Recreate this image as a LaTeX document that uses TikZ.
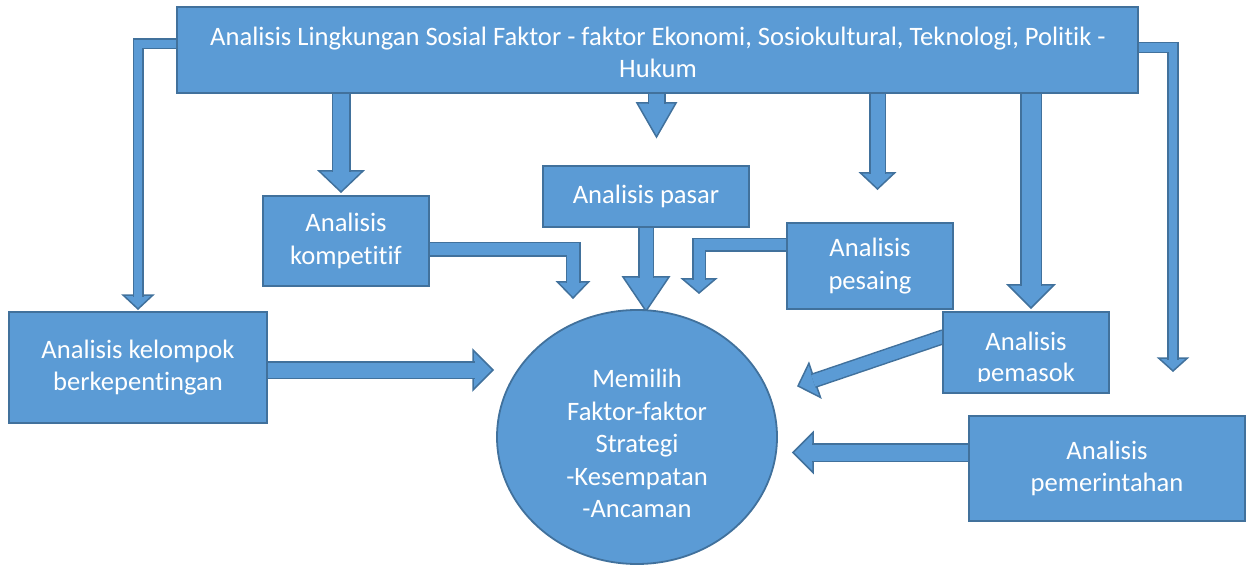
\documentclass[tikz,border=0pt]{standalone}
\usepackage{fontspec}
\setmainfont{Carlito}[Ligatures=NoCommon]
\usetikzlibrary{calc,shapes.geometric}
\definecolor{fillc}{HTML}{5B9BD5}
\definecolor{bordc}{HTML}{41719C}
\pgfdeclarelayer{bg}
\pgfsetlayers{bg,main}
% straight block arrow: start, tip, shaft width, head half width, head length
\newcommand{\sarrow}[5]{%
  \coordinate (hb) at ($(#2)!#5pt!(#1)$);
  \filldraw[headst] ($(hb)!#4pt!90:(#2)$) -- (#2) -- ($(hb)!#4pt!-90:(#2)$) -- cycle;
  \pgfmathsetlengthmacro\arrDD{#3-3}%
  \pgfmathsetlengthmacro\arrLL{#5-1.5}%
  \draw[shaftst, double distance=\arrDD] (#1) -- ($(#2)!\arrLL!(#1)$);
}
% bent block arrow: start, corner, tip, shaft width, head half width, head length
\newcommand{\barrow}[6]{%
  \coordinate (hb) at ($(#3)!#6pt!(#2)$);
  \filldraw[headst] ($(hb)!#5pt!90:(#3)$) -- (#3) -- ($(hb)!#5pt!-90:(#3)$) -- cycle;
  \pgfmathsetlengthmacro\arrDD{#4-3}%
  \pgfmathsetlengthmacro\arrLL{#6-1.5}%
  \draw[shaftst, double distance=\arrDD] (#1) -- (#2) -- ($(#3)!\arrLL!(#2)$);
}
\begin{document}
\begin{tikzpicture}[x=1pt,y=-1pt,
  box/.style={draw=bordc, fill=fillc, line width=2pt, rectangle, inner sep=0pt,
    text=white, align=center, font=\fontsize{26.6}{32.5}\selectfont},
  txt/.style={text=white, align=center, font=\fontsize{26.6}{32.5}\selectfont, inner sep=0pt},
  headst/.style={fill=fillc, draw=bordc, line width=1.5pt, line join=miter},
  shaftst/.style={draw=bordc, line width=1.5pt, double=fillc, line join=miter}]
\useasboundingbox (0,0) rectangle (1247,569);

% boxes
\node[box, minimum width=961pt, minimum height=86pt] (top) at (657.5,50) {};
\node[txt] (toptxt) at (658,52.5) {Analisis Lingkungan Sosial Faktor - faktor Ekonomi, Sosiokultural, Teknologi, Politik -\\Hukum};
\node[box, minimum width=166pt, minimum height=90pt] (kom) at (346,241) {Analisis\\kompetitif};
\node[box, minimum width=206pt, minimum height=61pt] (pasar) at (646,196.5) {Analisis pasar};
\node[box, minimum width=166pt, minimum height=86pt] (pesaing) at (870,266) {Analisis\\pesaing};
\node[box, minimum width=166pt, minimum height=81pt] (pemasok) at (1026,352.5) {};
\node[txt, anchor=base] (pemasok1) at (1026,350) {Analisis};
\begin{scope}
  \clip (950,361) rectangle (1100,381.5);
  \node[txt, anchor=base] (pemasok2) at (1026,381) {pemasok};
\end{scope}
\node[box, minimum width=258pt, minimum height=111pt] (kel) at (138,367.5) {Analisis kelompok\\berkepentingan};
\node[box, minimum width=276pt, minimum height=105pt] (pem) at (1107,468.5) {Analisis\\pemerintahan};
\node[draw=bordc, fill=fillc, line width=1.8pt, ellipse, minimum width=280pt, minimum height=254pt, inner sep=0pt] (circ) at (637,437) {};
\node[txt] (circtxt) at (637,443.5) {Memilih\\Faktor-faktor\\Strategi\\-Kesempatan\\-Ancaman};

% arrows
\begin{pgfonlayer}{bg}
\coordinate (a1s) at (top.west |- 0,44);
\coordinate (a1c) at (138,44);
\coordinate (a1t) at (138,309);
\barrow{a1s}{a1c}{a1t}{11}{15}{14}

\coordinate (a2s) at (top.east |- 0,47.5);
\coordinate (a2c) at (1173,47.5);
\coordinate (a2t) at (1173,371);
\barrow{a2s}{a2c}{a2t}{11.5}{14.5}{13}

\coordinate (a3s) at (341,0 |- top.south);
\coordinate (a3t) at (341,192);
\sarrow{a3s}{a3t}{19}{22}{21}

\coordinate (a4s) at (656.5,0 |- top.south);
\coordinate (a4t) at (656.5,137);
\sarrow{a4s}{a4t}{18}{19.5}{34}

\coordinate (a5s) at (877.5,0 |- top.south);
\coordinate (a5t) at (877.5,189);
\sarrow{a5s}{a5t}{17}{17}{16}

\coordinate (a6s) at (1031,0 |- top.south);
\coordinate (a6t) at (1031,308);
\sarrow{a6s}{a6t}{22}{23}{23}

\coordinate (a7s) at (kom.east |- 0,249.5);
\coordinate (a7c) at (573,249.5);
\coordinate (a7t) at (573,298);
\barrow{a7s}{a7c}{a7t}{15}{15.5}{16}

\coordinate (a8t) at (646,311);
\sarrow{pasar.south}{a8t}{16}{23}{34}

\coordinate (a9s) at (pesaing.west |- 0,245);
\coordinate (a9c) at (699,245);
\coordinate (a9t) at (699,293);
\barrow{a9s}{a9c}{a9t}{14}{16.5}{14}

\coordinate (a10s) at ([xshift=2pt]pemasok.west |- 0,336.5);
\coordinate (a10t) at (798,386);
\sarrow{a10s}{a10t}{15}{18}{17.6}

\coordinate (a11s) at (pem.west |- 0,452.5);
\coordinate (a11t) at (793,452.5);
\sarrow{a11s}{a11t}{19}{20}{20}

\coordinate (a12s) at (kel.east |- 0,370);
\coordinate (a12t) at (493,370);
\sarrow{a12s}{a12t}{18}{20}{20}
\end{pgfonlayer}
\end{tikzpicture}
\end{document}
